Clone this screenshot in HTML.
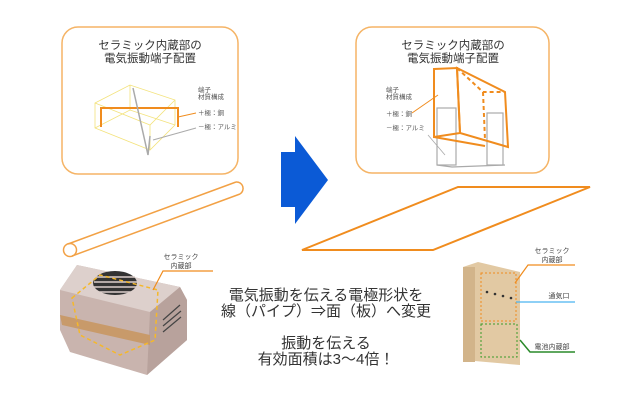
<!DOCTYPE html>
<html><head><meta charset="utf-8"><style>
html,body{margin:0;padding:0;background:#fff;width:640px;height:401px;overflow:hidden}
svg{display:block}
text{font-family:"Liberation Sans","Noto Sans CJK JP",sans-serif}
</style></head><body>
<svg width="640" height="401" viewBox="0 0 640 401">
<rect x="62" y="27" width="176" height="147" rx="16" fill="#fff" stroke="#f5b466" stroke-width="1.5"/>
<rect x="356" y="27" width="193" height="146" rx="16" fill="#fff" stroke="#f5b466" stroke-width="1.5"/>
<g font-size="11.5" fill="#333" text-anchor="middle">
<text x="150" y="49">セラミック内蔵部の</text><text x="150" y="62">電気振動端子配置</text>
<text x="453" y="49">セラミック内蔵部の</text><text x="453" y="62">電気振動端子配置</text>
</g>
<g fill="none" stroke="#f3e27a" stroke-width="0.8">
<polygon points="95,103 130,85 175,100 175,125 150,150 95,128"/>
<polyline points="95,103 150,125 175,100"/><line x1="150" y1="125" x2="150" y2="150"/>
<polyline points="95,128 130,110 175,125"/><line x1="130" y1="85" x2="130" y2="110"/>
</g>
<polyline points="101,127 101,108 178,108 178,127" fill="none" stroke="#f08c1e" stroke-width="2"/>
<polyline points="133,88 148,155 150,136" fill="none" stroke="#aaa" stroke-width="1.5"/>
<line x1="178" y1="117" x2="196" y2="113" stroke="#f08c1e"/>
<line x1="153" y1="140" x2="196" y2="128" stroke="#aaa"/>
<g font-size="6.5" fill="#555">
<text x="198" y="92">端子</text><text x="198" y="99">材質構成</text>
<text x="198" y="115">＋極：銅</text><text x="198" y="129">－極：アルミ</text>
<text x="386" y="92">端子</text><text x="386" y="99">材質構成</text>
<text x="386" y="116">＋極：銅</text><text x="386" y="130">－極：アルミ</text>
</g>
<g fill="none" stroke="#aaa" stroke-width="1.2">
<rect x="437" y="108" width="19" height="57"/><rect x="487" y="113" width="16" height="52"/>
<polyline points="437,165 452,167 505,165"/>
</g>
<line x1="428" y1="135" x2="445" y2="155" stroke="#aaa" stroke-width="0.8"/>
<g fill="none" stroke="#f08c1e" stroke-width="2">
<polygon points="434,69 457,68 460,133 434,137"/>
<polygon points="457,68 505,92 508,147 460,133"/>
<line x1="434" y1="137" x2="485" y2="146"/>
<polyline points="457,68 483,92 505,92" stroke-dasharray="4,3"/>
<line x1="483" y1="92" x2="485" y2="140" stroke-dasharray="4,3"/>
</g>
<line x1="412" y1="113" x2="438" y2="95" stroke="#f08c1e"/>
<polygon points="281,152 295,152 295,136 328,180 295,224 295,207 281,207" fill="#0b5ad6"/>
<g fill="none" stroke="#f2a145" stroke-width="1.5">
<line x1="68" y1="244" x2="236" y2="182"/>
<line x1="72" y1="256" x2="240" y2="194"/>
<path d="M236,182 A6.5,6.5 0 0 1 240,194"/>
<circle cx="70" cy="250" r="6.5"/>
</g>
<polygon points="302,250 458,187 590,187 433,250" fill="none" stroke="#f08c1e" stroke-width="2"/>
<polygon points="60,290 77,265 180,287 187,300 187,340 147,375 70,352 60,330" fill="#c9b4ae"/>
<polygon points="60,290 77,265 180,287 150,312" fill="#ddd0cc"/>
<polygon points="150,312 180,287 187,300 187,340 147,375" fill="#b8a29c"/>
<polygon points="60,315 150,335 150,345 62,325" fill="#c89a6a"/>
<ellipse cx="115" cy="283" rx="22" ry="12" fill="#333"/>
<g stroke="#ddd0cc" stroke-width="1.4"><line x1="95" y1="277" x2="135" y2="277"/><line x1="94" y1="282" x2="137" y2="282"/><line x1="94" y1="287" x2="137" y2="287"/><line x1="96" y1="292" x2="134" y2="292"/></g>
<g stroke="#444" stroke-width="1.2"><line x1="163" y1="320" x2="180" y2="305"/><line x1="163" y1="326" x2="181" y2="311"/><line x1="163" y1="332" x2="181" y2="317"/></g>
<polygon points="72,298 100,275 158,290 155,340 120,355 80,335" fill="none" stroke="#f5b82a" stroke-width="1.5" stroke-dasharray="4,3"/>
<polyline points="213,271 163,271 153,290" fill="none" stroke="#f08c1e" stroke-width="1.2"/>
<g font-size="7" fill="#444" text-anchor="middle"><text x="181" y="259">セラミック</text><text x="181" y="268">内蔵部</text></g>
<g font-size="15" fill="#333" text-anchor="middle">
<text x="326" y="300">電気振動を伝える電極形状を</text>
<text x="326" y="316">線（パイプ）⇒面（板）へ変更</text>
<text x="326" y="348">振動を伝える</text>
<text x="326" y="364">有効面積は3～4倍！</text>
</g>
<polygon points="463,267 478,262 520,272 520,365 463,360" fill="#e2c9a3"/>
<rect x="463" y="267" width="12" height="95" fill="#d2b48a"/>
<rect x="481" y="273" width="35" height="48" fill="none" stroke="#f08c1e" stroke-dasharray="2,2"/>
<rect x="481" y="324" width="36" height="33" fill="none" stroke="#3a9a2a" stroke-dasharray="2,2"/>
<g fill="#333"><circle cx="487" cy="292" r="1.3"/><circle cx="495" cy="294" r="1.3"/><circle cx="503" cy="296" r="1.3"/><circle cx="511" cy="298" r="1.3"/></g>
<polyline points="575,265 528,265 515,283" fill="none" stroke="#f08c1e" stroke-width="1.2"/>
<line x1="575" y1="302" x2="516" y2="302" stroke="#4ab4f0" stroke-width="1.2"/>
<polyline points="575,352 530,352 520,340" fill="none" stroke="#2a8a2a" stroke-width="1.5"/>
<g font-size="7" fill="#444" text-anchor="middle"><text x="552" y="253">セラミック</text><text x="552" y="262">内蔵部</text>
<text x="559" y="298">通気口</text><text x="552" y="349">電池内蔵部</text></g>
</svg>
</body></html>
